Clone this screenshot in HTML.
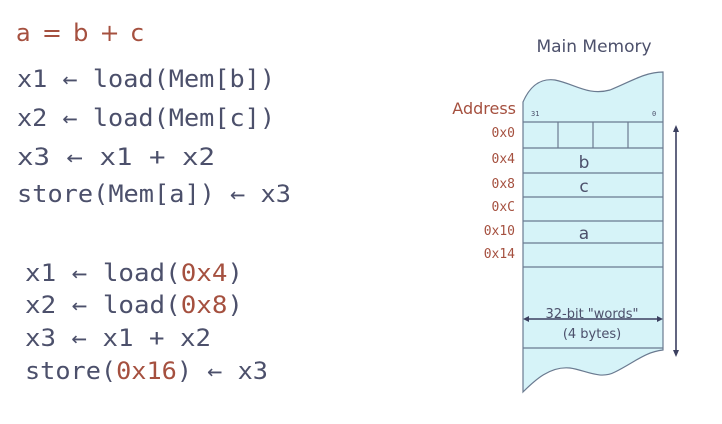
<!DOCTYPE html>
<html><head><style>body{margin:0;background:#fff}svg{display:block}</style></head><body>
<svg width="722" height="424" viewBox="0 0 722 424" xmlns="http://www.w3.org/2000/svg">
<rect width="722" height="424" fill="#fff"/>
<text x="16" y="41" font-family="DejaVu Sans, sans-serif" font-size="24" fill="#a5503f" textLength="128" lengthAdjust="spacing">a = b + c</text>
<g font-family="DejaVu Sans Mono, monospace" font-size="24" fill="#4c506b" lengthAdjust="spacingAndGlyphs">
<text x="17" y="87" textLength="258" lengthAdjust="spacingAndGlyphs">x1 ← load(Mem[b])</text>
<text x="17" y="126" textLength="258" lengthAdjust="spacingAndGlyphs">x2 ← load(Mem[c])</text>
<text x="17" y="165" textLength="198" lengthAdjust="spacingAndGlyphs">x3 ← x1 + x2</text>
<text x="17" y="202" textLength="274" lengthAdjust="spacingAndGlyphs">store(Mem[a]) ← x3</text>
</g>
<g font-family="DejaVu Sans Mono, monospace" font-size="24" fill="#4c506b">
<text x="25" y="281" textLength="218" lengthAdjust="spacingAndGlyphs">x1 ← load(<tspan fill="#a5503f">0x4</tspan>)</text>
<text x="25" y="313" textLength="218" lengthAdjust="spacingAndGlyphs">x2 ← load(<tspan fill="#a5503f">0x8</tspan>)</text>
<text x="25" y="346" textLength="186" lengthAdjust="spacingAndGlyphs">x3 ← x1 + x2</text>
<text x="25" y="379" textLength="243" lengthAdjust="spacingAndGlyphs">store(<tspan fill="#a5503f">0x16</tspan>) ← x3</text>
</g>
<text x="594" y="52" font-family="DejaVu Sans, sans-serif" font-size="17" fill="#4c506b" text-anchor="middle">Main Memory</text>
<path d="M523,102 C530,86 540,78 555,80 C575,84 588,96 610,90 C630,82 645,72 663,72 L663,350 C645,352 635,362 615,372 C600,380 585,370 570,368 C550,366 535,380 523,392 Z" fill="#d6f3f8" stroke="#6a7a90" stroke-width="1.2"/>
<g stroke="#6a7a90" stroke-width="1.2">
<line x1="523" y1="122" x2="663" y2="122"/>
<line x1="523" y1="148" x2="663" y2="148"/>
<line x1="523" y1="173" x2="663" y2="173"/>
<line x1="523" y1="197" x2="663" y2="197"/>
<line x1="523" y1="221" x2="663" y2="221"/>
<line x1="523" y1="243" x2="663" y2="243"/>
<line x1="523" y1="267" x2="663" y2="267"/>
<line x1="523" y1="348" x2="663" y2="348"/>
<line x1="558" y1="122" x2="558" y2="148"/>
<line x1="593" y1="122" x2="593" y2="148"/>
<line x1="628" y1="122" x2="628" y2="148"/>
</g>
<g font-family="DejaVu Sans Mono, monospace" font-size="7" fill="#4c506b">
<text x="531" y="116">31</text><text x="652" y="116">0</text>
</g>
<text x="516" y="114" font-family="DejaVu Sans, sans-serif" font-size="16" fill="#a5503f" text-anchor="end">Address</text>
<g font-family="DejaVu Sans Mono, monospace" font-size="13" fill="#a5503f" text-anchor="end">
<text x="515" y="137">0x0</text>
<text x="515" y="163">0x4</text>
<text x="515" y="188">0x8</text>
<text x="515" y="211">0xC</text>
<text x="515" y="235">0x10</text>
<text x="515" y="258">0x14</text>
</g>
<g font-family="DejaVu Sans, sans-serif" font-size="17" fill="#4c506b" text-anchor="middle">
<text x="584" y="168">b</text>
<text x="584" y="192">c</text>
<text x="584" y="239">a</text>
<text x="592" y="318" font-size="13">32-bit "words"</text>
<text x="592" y="338" font-size="13">(4 bytes)</text>
</g>
<g stroke="#3c4060" stroke-width="1.6" fill="#3c4060">
<line x1="527" y1="319" x2="659" y2="319"/>
<path d="M523,319 l6,-3 v6 z M663,319 l-6,-3 v6 z" stroke="none"/>
<line x1="676" y1="130" x2="676" y2="352"/>
<path d="M676,125 l-3,7 h6 z M676,357 l-3,-7 h6 z" stroke="none"/>
</g>
</svg>
</body></html>
